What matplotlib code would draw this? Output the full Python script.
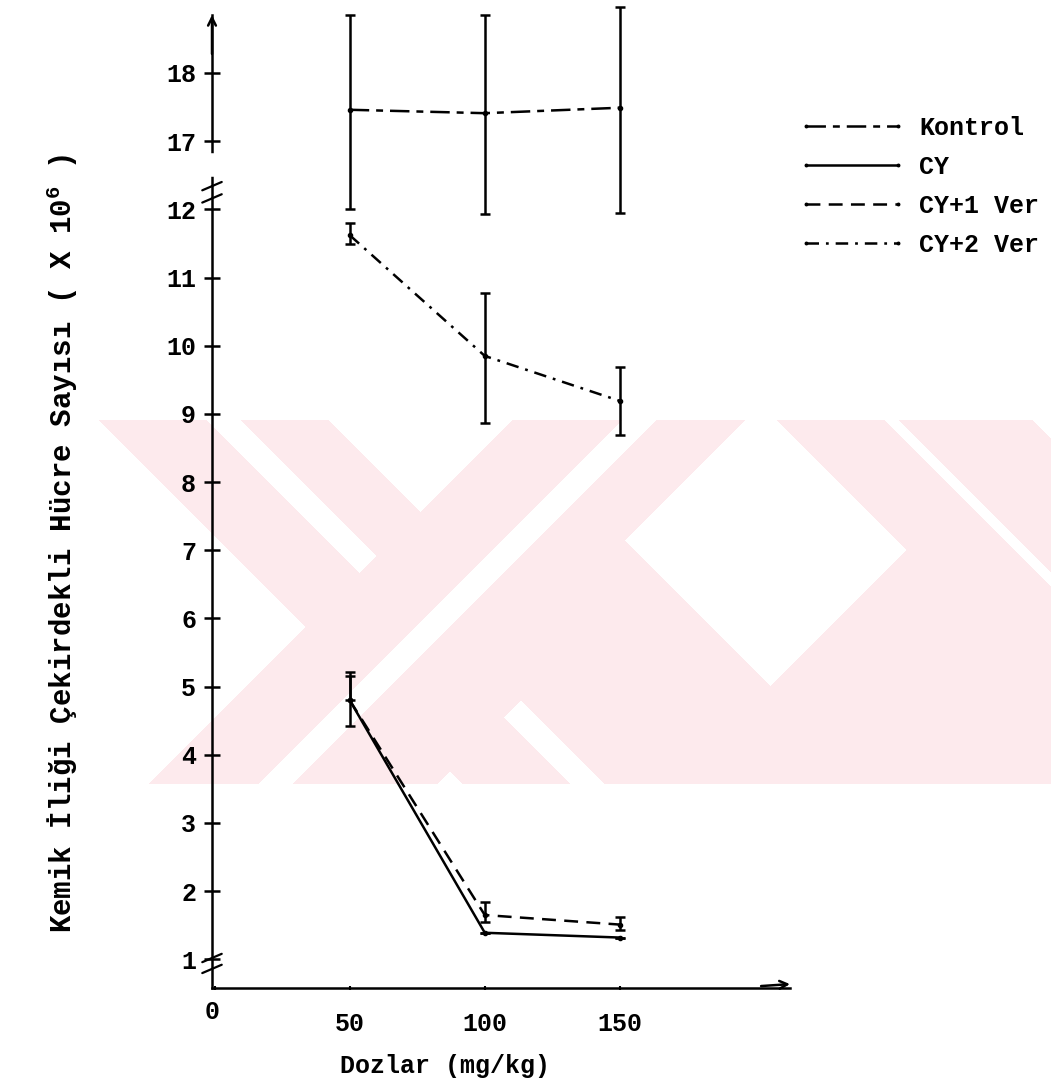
import numpy as np
import matplotlib
matplotlib.use("Agg")
import matplotlib.pyplot as plt
from matplotlib.transforms import blended_transform_factory, ScaledTranslation

# ---------------- data ----------------
doses = [50, 100, 150]
xtick_vals = [50, 100, 150]
ytick_vals = [1, 2, 3, 4, 5, 6, 7, 8, 9, 10, 11, 12, 17, 18]

kontrol = [17.46, 17.41, 17.49]
kontrol_lo = [12.0, 11.93, 11.95]
kontrol_hi = [18.85, 18.85, 18.97]

cy = [4.80, 1.39, 1.32]
cy_lo = [4.42, 1.39, 1.32]
cy_hi = [5.15, 1.39, 1.32]

cy1 = [4.80, 1.65, 1.51]
cy1_lo = [4.80, 1.55, 1.43]
cy1_hi = [5.21, 1.84, 1.62]

cy2 = [11.62, 9.85, 9.19]
cy2_lo = [11.49, 8.87, 8.69]
cy2_hi = [11.80, 10.78, 9.69]

labels = ["Kontrol", "CY", "CY+1 Ver", "CY+2 Ver"]

# ---------------- style ----------------
plt.rcParams["font.family"] = ["Liberation Mono", "DejaVu Sans Mono"]
plt.rcParams["font.weight"] = "bold"
plt.rcParams["lines.scale_dashes"] = False
plt.rcParams["mathtext.fontset"] = "custom"
plt.rcParams["mathtext.rm"] = "Liberation Mono:bold"
plt.rcParams["mathtext.it"] = "Liberation Mono:bold"
plt.rcParams["mathtext.bf"] = "Liberation Mono:bold"


# broken y axis: 12..17 compressed into one unit
def fwd(v):
    v = np.asarray(v, dtype=float)
    return np.where(v <= 12, v, np.where(v >= 17, v - 4, 12 + (v - 12) / 5.0))


def inv(p):
    p = np.asarray(p, dtype=float)
    return np.where(p <= 12, p, np.where(p >= 13, p + 4, 12 + (p - 12) * 5.0))


W, H = 1051, 1091
fig = plt.figure(figsize=(W / 100, H / 100), dpi=100)

# ---------------- pale background watermark (decoration) ----------------
yy, xx = np.mgrid[0:H, 0:W]
u = xx + yy
v = xx - yy
inside = (yy >= 420) & (yy <= 783) & (xx >= 60)
white = ((v < -321) & (u < 932)) | ((v > -92) & (u < 932)) | ((v < -321) & (u > 1220)) \
    | ((v > 84) & (v < 357) & (u > 1164) & (u < 1456)) | ((v > 612) & (u < 1744))
stripes = ((v >= -213) & (v <= -180) & ((u < 932) | (u > 1220))) \
    | ((u >= 1042) & (u <= 1075)) | ((v >= 465) & (v <= 478))
pink = inside & ~white & ~stripes
img = np.ones((H, W, 4))
img[..., 3] = 0
img[pink] = [253 / 255, 234 / 255, 237 / 255, 1.0]
fig.figimage(img, xo=0, yo=0, origin="upper", zorder=-5)

ax = fig.add_axes([212 / W, 1 - 988 / H, 578 / W, 973 / H])
ax.set_facecolor("none")
ax.set_zorder(2)
ax.set_yscale("function", functions=(fwd, inv))
ax.set_xlim(-1, 213)
ax.set_ylim(0.58, 18.85)

lw = 1.8
styles = {
    "Kontrol": (0, (14, 5, 5, 5)),
    "CY": "-",
    "CY+1 Ver": (0, (10, 6)),
    "CY+2 Ver": (0, (9, 5, 2, 5)),
}
series = [
    ("Kontrol", kontrol, kontrol_lo, kontrol_hi),
    ("CY", cy, cy_lo, cy_hi),
    ("CY+1 Ver", cy1, cy1_lo, cy1_hi),
    ("CY+2 Ver", cy2, cy2_lo, cy2_hi),
]
handles = []
for name, vals, lo, hi in series:
    vals_a = np.array(vals)
    yerr = [vals_a - np.array(lo), np.array(hi) - vals_a]
    ax.errorbar(doses, vals, yerr=yerr, fmt="none", ecolor="black",
                elinewidth=1.8, capsize=3.5, capthick=1.8, clip_on=False, zorder=3)
    (ln,) = ax.plot(doses, vals, color="black", lw=lw, linestyle=styles[name],
                    marker="o", markersize=3, label=name, zorder=4)
    handles.append(ln)

# ---------------- axes decoration ----------------
for s in ["top", "right"]:
    ax.spines[s].set_visible(False)
ax.spines["left"].set_linewidth(1.8)
ax.spines["bottom"].set_linewidth(1.8)

ax.set_yticks(ytick_vals)
ax.set_yticklabels([str(t) for t in ytick_vals])
ax.yaxis.set_minor_locator(matplotlib.ticker.NullLocator())
ax.tick_params(axis="y", direction="inout", length=11, width=1.8, pad=6, labelsize=18)

ax.set_xticks([0] + xtick_vals)
ax.set_xticklabels([""] + [str(t) for t in xtick_vals])
ax.tick_params(axis="x", direction="inout", length=3, width=1.5, pad=16, labelsize=18)
ax.text(-1, 0, "0", ha="center", va="top", fontsize=18, fontweight="bold",
        transform=blended_transform_factory(ax.transData, ax.transAxes)
        + ScaledTranslation(0, -12 / 100, fig.dpi_scale_trans))

ax.set_xlabel("Dozlar (mg/kg)", fontsize=18, fontweight="bold")
ax.xaxis.set_label_coords((445 - 212) / 578, -(1066 - 988) / 973)
ax.xaxis.label.set_va("center")
ax.set_ylabel("Kemik İliği Çekirdekli Hücre Sayısı ( X 10$^{6}$ )",
              fontsize=21, fontweight="bold")
ax.yaxis.set_label_coords(-(212 - 80) / 578, (988 - 543) / 973)

# arrows at axis ends
ax.annotate("", xy=(0, 1.0), xytext=(0, 0.96), xycoords="axes fraction",
            arrowprops=dict(arrowstyle="->", lw=1.8, color="black",
                            mutation_scale=14, shrinkA=0, shrinkB=0))
ax.annotate("", xy=(1.0, 0.004), xytext=(0.95, 0.002), xycoords="axes fraction",
            arrowprops=dict(arrowstyle="->", lw=1.8, color="black",
                            mutation_scale=14, shrinkA=0, shrinkB=0))

# axis break marks (y axis)
bt = blended_transform_factory(ax.transAxes, ax.transData)
ax.plot([0, 0], [14.6, 15.9], transform=bt, color="white", lw=4, clip_on=False, zorder=5)
for yb in [13.7, 12.8, 1.02, 0.86]:
    for dx, dy in [(-7, -3), (7, 3)]:
        ax.annotate("", xy=(0, yb), xycoords=bt, xytext=(dx, dy), textcoords="offset points",
                    arrowprops=dict(arrowstyle="-", lw=1.6, color="black",
                                    shrinkA=0, shrinkB=0))

# legend
leg = ax.legend(handles=handles, labels=labels, loc="upper left",
                bbox_to_anchor=(798 / W, 1 - 116 / H), bbox_transform=fig.transFigure,
                frameon=False, fontsize=18, handlelength=4.3, handletextpad=0.55,
                labelspacing=0.6, borderpad=0, borderaxespad=0, numpoints=2,
                markerscale=0.6)

fig.savefig("out.png", dpi=100, facecolor="white")
